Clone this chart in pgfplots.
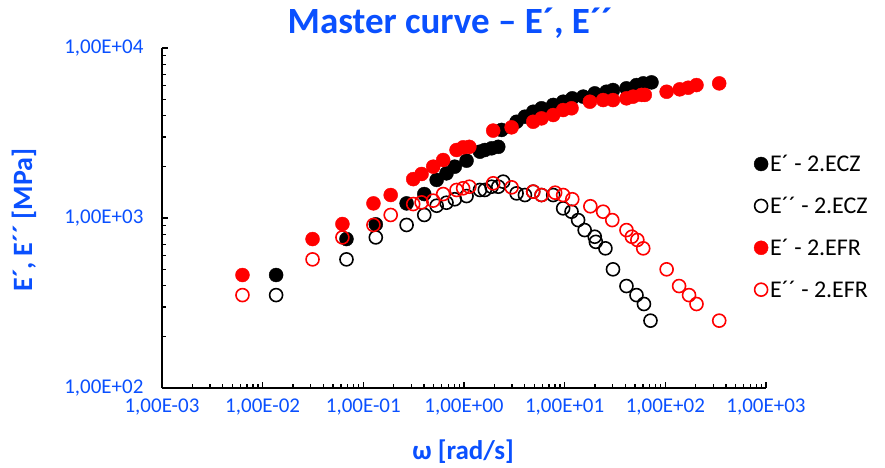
\documentclass[border=0pt]{standalone}
\usepackage{fontspec}
\setmainfont{Carlito}
\usepackage{pgfplots}
\pgfplotsset{compat=1.18}
\definecolor{LabelBlue}{HTML}{0A50FF}
\definecolor{PlotRed}{HTML}{FF0000}

\begin{document}
\begin{tikzpicture}[x=1pt,y=1pt]
\useasboundingbox (0,0) rectangle (885,467);
\begin{axis}[
  at={(162pt,79pt)}, anchor=south west,
  scale only axis, width=604pt, height=340pt,
  xmode=log, ymode=log,
  xmin=1e-3, xmax=1e3, ymin=1e2, ymax=1e4,
  axis lines=left,
  axis line style={-, line width=2.5pt, black},
  tick align=inside,
  tick style={black, line width=1.3pt},
  major tick length=6pt, minor tick length=4pt,
  xtick={1e-3,1e-2,1e-1,1,1e1,1e2,1e3},
  xticklabels={{1,00E-03},{1,00E-02},{1,00E-01},{1,00E+00},{1,00E+01},{1,00E+02},{1,00E+03}},
  minor xtick={2e-3,3e-3,4e-3,5e-3,6e-3,7e-3,8e-3,9e-3,
               2e-2,3e-2,4e-2,5e-2,6e-2,7e-2,8e-2,9e-2,
               0.2,0.3,0.4,0.5,0.6,0.7,0.8,0.9,
               2,3,4,5,6,7,8,9,
               20,30,40,50,60,70,80,90,
               200,300,400,500,600,700,800,900},
  ytick={1e2,1e3,1e4},
  yticklabels={{1,00E+02},{1,00E+03},{1,00E+04}},
  minor ytick={200,300,400,500,600,700,800,900,2000,3000,4000,5000,6000,7000,8000,9000},
  ticklabel style={font=\fontsize{21}{23}\selectfont, text=LabelBlue},
  xticklabel style={yshift=-7pt},
  yticklabel style={xshift=-15pt},
  legend style={draw=none, fill=none, at={(0.975,0.474)}, anchor=west,
    font=\fontsize{24}{26}\selectfont, row sep=20pt,
    /tikz/every even column/.append style={column sep=5pt}},
  legend cell align=left,
  clip=false,
]
% E' - 2.ECZ
\addplot[only marks, mark=*, mark size=7pt, draw=black, fill=black] coordinates {
(0.0136,462)(0.068,752)(0.133,918)(0.269,1219)(0.403,1383)(0.535,1675)(0.67,1831)
(0.81,2004)(1.06,2174)(1.44,2455)(1.61,2512)(1.88,2570)(2.19,2622)(2.36,3296)
(3.33,3683)(4.03,3944)(4.87,4219)(5.89,4419)(7.69,4625)(9.66,4833)(11.9,5058)
(15.3,5175)(19.9,5408)(26.0,5530)(30.2,5660)(41.1,5790)(51.7,6053)(60.3,6194)(72.9,6277)
};
\addlegendentry{E´ - 2.ECZ}
% E'' - 2.ECZ
\addplot[only marks, mark=o, mark size=6.5pt, line width=1.6pt, draw=black] coordinates {
(0.0136,352)(0.068,571)(0.133,769)(0.269,910)(0.403,1042)(0.535,1181)(0.67,1230)
(0.81,1289)(1.06,1346)(1.44,1462)(1.61,1462)(1.88,1528)(2.19,1528)(2.45,1636)
(3.33,1396)(4.03,1365)(4.87,1429)(5.89,1365)(7.69,1365)(9.66,1140)(11.7,1089)
(13.6,972)(15.8,849)(19.9,776)(20.4,724)(25.4,663)(30.2,499)(41.1,398)(51.7,352)
(61.3,312)(71.2,249)
};
\addlegendentry{E´´ - 2.ECZ}
% E' - 2.EFR
\addplot[only marks, mark=*, mark size=7pt, draw=PlotRed, fill=PlotRed] coordinates {
(0.0063,462)(0.0313,752)(0.062,922)(0.126,1219)(0.187,1365)(0.313,1693)(0.379,1815)
(0.494,2004)(0.621,2193)(0.843,2512)(0.98,2604)(1.13,2622)(1.95,3267)(2.97,3415)
(4.87,3683)(5.89,3855)(7.69,4034)(9.66,4316)(11.7,4419)(17.8,4833)(24.1,4940)
(30.2,4940)(41.1,5058)(47.9,5175)(58,5298)(62.5,5298)(103,5530)(139,5712)(169,5840)
(204,6053)(343,6194)
};
\addlegendentry{E´ - 2.EFR}
% E'' - 2.EFR
\addplot[only marks, mark=o, mark size=6.5pt, line width=1.6pt, draw=PlotRed] coordinates {
(0.0063,352)(0.0313,571)(0.062,769)(0.126,910)(0.187,1042)(0.313,1208)(0.379,1236)
(0.494,1265)(0.621,1383)(0.843,1462)(0.98,1496)(1.13,1528)(1.95,1600)(2.97,1515)
(4.87,1429)(5.89,1365)(8.04,1409)(9.66,1365)(11.9,1289)(18.0,1172)(24.1,1089)
(29.7,972)(41.1,849)(46.5,776)(52.7,743)(60.3,663)(103,499)(137,398)(172,352)
(204,312)(343,249)
};
\addlegendentry{E´´ - 2.EFR}
\end{axis}
\node[text=LabelBlue, font=\bfseries\fontsize{37}{40}\selectfont] at (450,444) {Master curve – E´, E´´};
\node[text=LabelBlue, font=\bfseries\fontsize{28}{30}\selectfont, rotate=90] at (24,247) {E´, E´´ [MPa]};
\node[text=LabelBlue, font=\bfseries\fontsize{27}{29}\selectfont] at (463,15) {ω [rad/s]};
\end{tikzpicture}
\end{document}
